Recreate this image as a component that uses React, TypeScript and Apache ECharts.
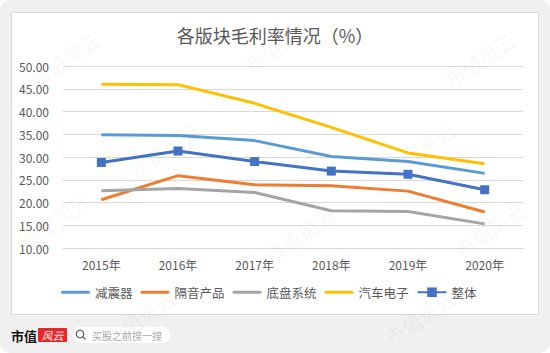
import React, { useEffect, useRef } from "react";
import * as echarts from "echarts";

const categories = ["2015年", "2016年", "2017年", "2018年", "2019年", "2020年"];
const shockAbsorber = [34.9, 34.7, 33.6, 30.1, 29.0, 26.4];
const soundInsulation = [20.6, 25.9, 23.9, 23.7, 22.5, 17.9];
const chassis = [22.6, 23.1, 22.2, 18.2, 18.0, 15.3];
const autoElectronics = [46.0, 45.9, 41.8, 36.5, 30.9, 28.5];
const overall = [28.8, 31.3, 29.0, 26.9, 26.2, 22.8];
const seriesNames = ["减震器", "隔音产品", "底盘系统", "汽车电子", "整体"];
const seriesColors = ["#5B9BD5", "#ED7D31", "#A5A5A5", "#FFC000", "#4472C4"];

const FONT = "'Noto Sans CJK SC', 'Noto Sans', sans-serif";

const watermarkPos: [number, number][] = [
  [65, 60], [280, 45], [480, 60], [165, 150], [420, 150],
  [55, 220], [300, 235], [490, 230], [140, 318], [420, 318],
];

export default function App() {
  const ref = useRef<HTMLDivElement>(null);
  useEffect(() => {
    if (!ref.current) return;
    const chart = echarts.init(ref.current, undefined, { renderer: "svg" });
    const datasets = [shockAbsorber, soundInsulation, chassis, autoElectronics, overall];
    const series = datasets.map((d, i) => ({
      name: seriesNames[i],
      type: "line",
      data: d,
      symbol: i === 4 ? "rect" : "none",
      symbolSize: 9,
      showSymbol: i === 4,
      lineStyle: { width: 3, color: seriesColors[i] },
      itemStyle: { color: seriesColors[i] },
      z: 2 + i,
    }));
    const watermarks = watermarkPos.map(([x, y]) => ({
      type: "text",
      x,
      y,
      rotation: 0.6,
      z: 100,
      silent: true,
      style: {
        text: "市值风云",
        fontSize: 20,
        fontFamily: FONT,
        fill: "rgba(0,0,0,0.045)",
        textAlign: "center",
        textVerticalAlign: "middle",
      },
    }));
    const barIcon = "path://M1.5,0 L27.5,0 A1.5,1.5 0 0 1 27.5,3 L1.5,3 A1.5,1.5 0 0 1 1.5,0 Z";
    chart.setOption({
      animation: false,
      backgroundColor: "transparent",
      title: {
        text: "各版块毛利率情况（%）",
        left: 270,
        textAlign: "center",
        top: 21,
        textStyle: { fontSize: 18, fontWeight: "normal", color: "#595959", fontFamily: FONT },
      },
      grid: { left: 63, right: 27, top: 66, bottom: 105 },
      xAxis: {
        type: "category",
        data: categories,
        boundaryGap: true,
        axisLine: { lineStyle: { color: "#d9d9d9", width: 1 } },
        axisTick: { show: false },
        axisLabel: { color: "#595959", fontSize: 12, margin: 10, fontFamily: FONT },
      },
      yAxis: {
        type: "value",
        min: 10,
        max: 50,
        interval: 5,
        axisLine: { show: false },
        axisTick: { show: false },
        splitLine: { lineStyle: { color: "#d9d9d9", width: 1 } },
        axisLabel: {
          color: "#595959",
          fontSize: 12,
          margin: 14,
          fontFamily: FONT,
          formatter: (v: number) => v.toFixed(2),
        },
      },
      legend: {
        data: seriesNames.map((n, i) => (i === 4 ? { name: n } : { name: n, icon: barIcon })),
        left: 56,
        top: 281,
        itemWidth: 29,
        itemHeight: 12,
        itemGap: 8,
        textStyle: { color: "#595959", fontSize: 12.5, fontFamily: FONT },
      },
      series,
      graphic: [
        ...watermarks,
        {
          type: "text",
          x: 11,
          y: 335,
          style: {
            text: "市值",
            fontSize: 13,
            fontWeight: "bold",
            fontFamily: FONT,
            fill: "#111",
            textVerticalAlign: "middle",
          },
        },
        {
          type: "rect",
          shape: { x: 38, y: 328, width: 29, height: 14, r: 1 },
          style: { fill: "#E8262A" },
        },
        {
          type: "text",
          x: 52.5,
          y: 335,
          style: {
            text: "风云",
            fontSize: 11,
            fontStyle: "italic",
            fontFamily: FONT,
            fill: "#fff",
            textAlign: "center",
            textVerticalAlign: "middle",
          },
        },
        {
          type: "rect",
          shape: { x: 72, y: 327, width: 98, height: 16, r: 8 },
          style: { fill: "#fff" },
        },
        {
          type: "circle",
          shape: { cx: 80, cy: 334, r: 3.8 },
          style: { fill: "none", stroke: "#666", lineWidth: 1.3 },
        },
        {
          type: "line",
          shape: { x1: 82.8, y1: 336.8, x2: 85.5, y2: 339.5 },
          style: { stroke: "#666", lineWidth: 1.4 },
        },
        {
          type: "text",
          x: 92,
          y: 335,
          style: {
            text: "买股之前搜一搜",
            fontSize: 10,
            fontFamily: FONT,
            fill: "#aaa",
            textVerticalAlign: "middle",
          },
        },
      ],
    });
    return () => chart.dispose();
  }, []);
  return (
    <div style={{ position: "absolute", left: 0, top: 0, width: 550, height: 353, background: "#fff" }}>
      <div
        style={{
          position: "absolute",
          left: 0,
          top: 0,
          width: 550,
          height: 353,
          background: "#f0f0f0",
          borderRadius: 10,
        }}
      />
      <div
        style={{
          position: "absolute",
          left: 11,
          top: 12,
          width: 526,
          height: 301,
          background: "#fff",
          border: "1px solid #d9d9d9",
        }}
      />
      <div ref={ref} style={{ position: "absolute", left: 0, top: 0, width: 550, height: 353 }} />
    </div>
  );
}
